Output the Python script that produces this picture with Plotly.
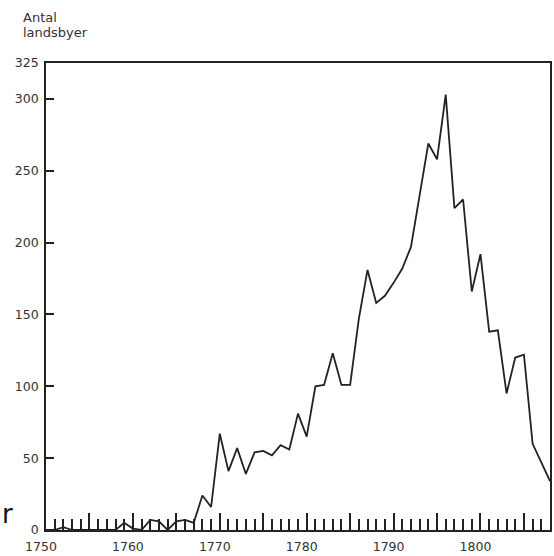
import plotly.graph_objects as go

years = list(range(1750, 1809))
villages = [0, 0, 2, 0, 0, 0, 0, 0, 0, 5,
            1, 0, 7, 6, 0, 6, 7, 5, 24, 16,
            67, 41, 57, 39, 54, 55, 52, 59, 56, 81,
            65, 100, 101, 123, 101, 101, 147, 181, 158, 163,
            172, 182, 197, 233, 269, 258, 303, 224, 230, 166,
            192, 138, 139, 95, 120, 122, 60, 47, 34]

x_major = list(range(1750, 1806, 5))
x_labels = [str(v) if v % 10 == 0 else "" for v in x_major]
x_minor = [v for v in range(1751, 1808) if v % 5 != 0]
y_ticks = [0, 50, 100, 150, 200, 250, 300, 325]
y_labels = [str(v) for v in y_ticks]
y_title = ["Antal", "landsbyer"]

W, H = 554, 556
ML, MR, MT, MB = 46, 2, 63, 23
pw = W - ML - MR
ph = H - MT - MB

ink = "#222222"
font = "DejaVu Sans"

fig = go.Figure()
fig.add_trace(go.Scatter(x=years, y=villages, mode="lines",
                         line=dict(color=ink, width=1.8),
                         hoverinfo="skip", showlegend=False))

fig.update_layout(
    width=W, height=H,
    margin=dict(l=ML, r=MR, t=MT, b=MB),
    paper_bgcolor="white", plot_bgcolor="white",
    font=dict(family=font, size=12.5, color="#333333"),
    showlegend=False,
)
fig.update_xaxes(
    range=[1750, 1808], showgrid=False, zeroline=False,
    showline=True, linecolor=ink, linewidth=1.6, mirror=True,
    tickmode="array", tickvals=x_major, ticktext=x_labels,
    ticks="inside", ticklen=17, tickwidth=1.6, tickcolor=ink,
    ticklabelshift=-5, ticklabelstandoff=4,
    minor=dict(tickmode="array", tickvals=x_minor, ticks="inside",
               ticklen=11, tickwidth=1.6, tickcolor=ink, showgrid=False),
)
fig.update_yaxes(
    range=[0, 325], showgrid=False, zeroline=False,
    showline=True, linecolor=ink, linewidth=1.6, mirror=True,
    tickmode="array", tickvals=y_ticks, ticktext=y_labels,
    ticks="inside", ticklen=8, tickwidth=1.6, tickcolor=ink,
    ticklabelstandoff=3,
)

def px_to_paper(px, py):
    return (px - ML) / pw, (H - MB - py) / ph

ax, ay = px_to_paper(21, 8)
fig.add_annotation(text=y_title[0], xref="paper", yref="paper", x=ax, y=ay,
                   xanchor="left", yanchor="top", showarrow=False,
                   font=dict(family=font, size=13, color="#333333"))
ax, ay = px_to_paper(21, 23)
fig.add_annotation(text=y_title[1], xref="paper", yref="paper", x=ax, y=ay,
                   xanchor="left", yanchor="top", showarrow=False,
                   font=dict(family=font, size=13, color="#333333"))
ax, ay = px_to_paper(0, 500)
fig.add_annotation(text="r", xref="paper", yref="paper", x=ax, y=ay,
                   xanchor="left", yanchor="top", showarrow=False,
                   font=dict(family=font, size=26, color="#111111"))

fig.write_html(
    "out.html",
    config={"displayModeBar": False},
    post_script="document.body.style.margin='0';document.body.style.overflow='hidden';",
)
